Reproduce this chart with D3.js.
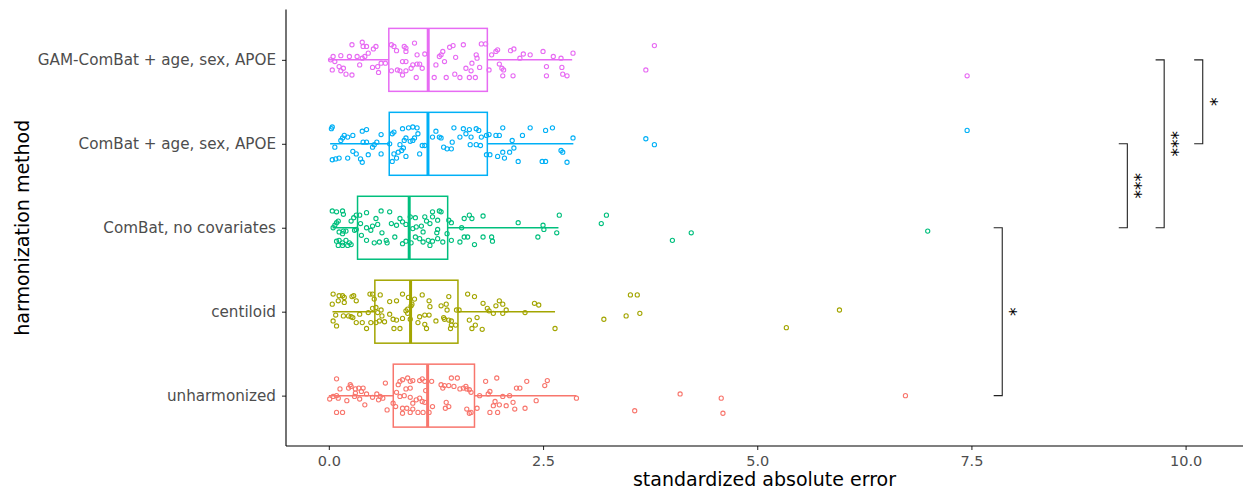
<!DOCTYPE html>
<html>
<head>
<meta charset="utf-8">
<script src="https://cdn.jsdelivr.net/npm/d3@7"></script>
<style>
  body { margin: 0; background: #fff; }
  text { font-family: "DejaVu Sans", sans-serif; }
</style>
</head>
<body>
<svg id="chart" width="1243" height="490"></svg>
<script>
// categories, bottom to top
var categories = ['unharmonized', 'centiloid', 'ComBat, no covariates', 'ComBat + age, sex, APOE', 'GAM-ComBat + age, sex, APOE'];
var colors = ['#F8766D', '#A3A500', '#00BF7D', '#00B0F6', '#E76BF3'];

// box stats: [lower whisker, q1, median, q3, upper whisker]
var boxStats = [
  [0.00, 0.752, 1.153, 1.70, 2.89],
  [0.043, 0.537, 0.954, 1.507, 2.64],
  [0.043, 0.335, 0.938, 1.387, 2.68],
  [0.015, 0.705, 1.157, 1.85, 2.854],
  [0.00, 0.70, 1.16, 1.85, 2.84]
];

// jittered points: [standardized absolute error, jitter]
var unharmonizedPts = [[0.09,-0.20],[0.13,-0.08],[0.23,-0.09],[0.25,-0.13],[0.26,-0.11],[0.31,-0.08],[0.35,-0.09],[0.40,-0.09],[0.38,-0.05],[0.31,-0.03],[0.30,0.01],[0.36,0.04],[0.42,0.11],[0.01,0.04],[0.05,0.01],[0.09,0.00],[0.11,0.03],[0.21,0.06],[0.09,0.20],[0.16,0.20],[0.51,0.02],[0.56,-0.02],[0.60,0.01],[0.63,0.03],[0.58,0.05],[0.66,-0.15],[0.68,0.17],[0.44,-0.02],
  [0.81,-0.13],[0.83,-0.17],[0.86,-0.19],[0.92,-0.21],[0.95,-0.17],[0.98,-0.18],[1.06,-0.18],[1.09,-0.20],[1.12,-0.17],[0.90,-0.08],[0.95,-0.09],[0.83,0.01],[0.88,0.00],[0.95,0.02],[0.98,0.09],[1.02,0.05],[1.06,0.03],[1.09,0.07],[1.12,0.08],[0.78,0.13],[0.86,0.15],[0.91,0.15],[0.98,0.16],[0.86,0.21],[0.95,0.20],[1.04,0.20],[1.10,0.20],[0.75,0.09],[0.79,-0.04],[1.13,-0.06],
  [1.20,-0.17],[1.31,-0.13],[1.33,-0.09],[1.35,-0.12],[1.40,-0.12],[1.43,-0.21],[1.46,-0.11],[1.50,-0.21],[1.53,-0.08],[1.57,-0.09],[1.60,-0.11],[1.61,-0.08],[1.64,-0.07],[1.66,-0.04],[1.37,0.08],[1.40,0.13],[1.36,0.15],[1.61,0.16],[1.66,0.20],[1.64,0.21],[1.21,0.13],[1.17,0.20],
  [1.73,0.15],[1.76,0.00],[1.83,-0.17],[1.86,-0.02],[1.88,-0.05],[1.96,-0.21],[1.94,0.07],[1.92,0.12],[1.99,0.11],[2.03,0.01],[2.07,0.12],[2.11,0.00],[2.15,0.08],[2.19,-0.09],[2.23,-0.09],[2.29,0.15],[2.31,-0.17],[2.42,0.06],[2.52,-0.12],[2.55,-0.18],[2.89,0.03],[1.88,0.20],[1.97,0.20],[2.17,0.16],
  [3.57,0.18],[4.10,-0.02],[4.58,0.03],[4.60,0.21],[6.73,0.00]];

var centiloidPts = [[0.05,-0.21],[0.12,-0.19],[0.16,-0.19],[0.18,-0.17],[0.27,-0.18],[0.29,-0.19],[0.32,-0.13],[0.11,-0.13],[0.04,-0.09],[0.18,-0.11],[0.08,0.04],[0.17,0.05],[0.23,0.05],[0.26,0.06],[0.28,0.07],[0.36,0.03],[0.46,0.01],[0.51,-0.04],[0.05,0.11],[0.09,0.17],[0.32,0.13],[0.39,0.13],[0.44,0.20],[0.49,0.13],[0.51,-0.21],[0.48,-0.21],[0.53,-0.15],
  [0.55,-0.05],[0.57,0.01],[0.61,-0.02],[0.62,0.05],[0.60,-0.20],[0.71,-0.12],[0.79,-0.13],[0.86,-0.21],[0.93,-0.17],[0.92,-0.03],[0.90,-0.01],[0.92,0.02],[0.71,0.03],[0.75,0.09],[0.79,0.10],[0.86,0.08],[0.59,0.11],[0.65,0.12],[0.55,0.13],[0.76,0.20],[0.83,0.20],[0.96,-0.07],[0.95,0.09],[0.97,-0.09],
  [1.00,-0.15],[1.09,-0.20],[1.18,-0.06],[1.17,-0.13],[1.06,0.06],[1.12,0.04],[1.17,0.04],[1.04,0.13],[1.12,0.15],[1.14,0.20],[1.25,0.11],[1.31,-0.07],[1.34,0.07],[1.37,-0.09],[1.40,-0.18],[1.38,-0.02],[1.43,0.11],[1.40,0.10],[1.35,0.09],[1.43,0.16],[1.48,0.16],[1.42,0.20],[1.49,-0.02],[1.52,-0.02],
  [1.62,-0.21],[1.70,-0.18],[1.80,-0.10],[1.85,-0.04],[1.87,-0.01],[1.92,0.02],[1.95,-0.07],[1.99,-0.13],[2.03,-0.09],[2.03,0.02],[2.07,-0.02],[2.29,0.01],[2.40,-0.10],[2.45,-0.08],[1.64,0.10],[1.73,0.07],[1.71,0.16],[1.79,0.21],[1.67,0.20],[2.64,0.20],
  [3.52,-0.20],[3.60,-0.20],[3.63,0.02],[3.47,0.05],[3.21,0.09],[5.96,-0.02],[5.34,0.19]];

var combatNoCovPts = [[0.04,-0.20],[0.09,-0.19],[0.16,-0.20],[0.17,-0.16],[0.11,-0.08],[0.09,-0.06],[0.07,-0.03],[0.05,0.00],[0.12,0.05],[0.17,0.04],[0.20,0.04],[0.16,0.07],[0.30,0.03],[0.32,0.02],[0.26,-0.08],[0.29,-0.12],[0.32,-0.15],[0.09,0.16],[0.12,0.15],[0.16,0.18],[0.20,0.15],[0.24,0.18],[0.11,0.21],[0.16,0.21],[0.22,0.21],[0.26,0.20],
  [0.36,-0.15],[0.44,-0.18],[0.55,-0.11],[0.61,-0.20],[0.71,-0.19],[0.37,-0.05],[0.44,0.00],[0.49,0.03],[0.51,-0.02],[0.57,-0.04],[0.62,0.06],[0.73,-0.05],[0.83,-0.11],[0.86,-0.07],[0.90,-0.04],[0.79,-0.03],[0.44,0.15],[0.53,0.18],[0.59,0.17],[0.67,0.15],[0.68,0.18],[0.86,0.19],[0.90,0.16],[0.38,0.09],[0.77,0.11],
  [0.95,-0.13],[0.98,0.01],[1.01,-0.12],[1.02,-0.01],[1.08,-0.02],[1.10,0.05],[1.12,-0.13],[1.14,-0.08],[1.21,-0.13],[1.21,-0.19],[1.27,-0.09],[1.29,-0.20],[1.31,-0.19],[1.27,0.02],[1.26,0.06],[1.18,-0.05],[1.01,0.11],[1.06,0.13],[1.10,0.17],[1.16,0.15],[1.18,0.21],[1.21,0.16],[1.27,0.13],[1.33,0.17],[1.38,0.07],[0.96,0.18],
  [1.40,-0.09],[1.43,-0.06],[1.55,0.00],[1.58,-0.11],[1.64,-0.15],[1.67,-0.11],[1.80,-0.14],[1.58,0.11],[1.62,0.11],[1.70,0.20],[1.80,0.11],[1.90,0.11],[1.91,0.16],[2.21,-0.06],[2.44,0.11],[2.50,-0.03],[2.51,0.02],[2.66,0.06],[2.69,-0.15],[1.43,0.15],[1.53,0.17],
  [3.24,-0.15],[3.18,-0.05],[4.23,0.06],[4.01,0.15],[6.99,0.04]];

var combatCovPts = [[0.04,-0.20],[0.03,-0.18],[0.16,-0.07],[0.18,-0.10],[0.22,-0.08],[0.28,-0.10],[0.14,-0.04],[0.07,0.04],[0.39,-0.15],[0.44,-0.17],[0.40,-0.02],[0.44,-0.02],[0.51,0.04],[0.53,0.01],[0.56,-0.02],[0.61,-0.11],[0.28,0.09],[0.22,0.17],[0.12,0.17],[0.08,0.18],[0.04,0.19],[0.37,0.18],[0.39,0.22],[0.46,0.13],[0.61,0.12],[0.32,0.12],
  [0.74,-0.12],[0.76,-0.14],[0.86,-0.18],[0.93,-0.19],[0.98,-0.20],[1.03,-0.19],[1.04,-0.12],[1.00,-0.07],[0.90,-0.07],[0.88,-0.04],[0.83,0.01],[0.87,0.05],[0.95,-0.03],[0.98,-0.04],[1.09,0.02],[1.12,0.02],[0.76,0.12],[0.81,0.10],[0.85,0.08],[0.90,0.15],[1.06,0.12],[0.79,0.17],[0.74,0.21],[0.71,0.00],
  [1.25,-0.15],[1.21,-0.08],[1.29,-0.08],[1.31,-0.07],[1.34,0.04],[1.38,0.06],[1.44,-0.02],[1.46,-0.19],[1.53,-0.08],[1.57,-0.18],[1.60,-0.12],[1.64,-0.17],[1.66,-0.08],[1.72,-0.18],[1.75,-0.16],[1.78,-0.08],[1.65,0.01],[1.72,0.01],[1.43,0.06],[1.77,0.02],[1.84,-0.10],
  [1.87,-0.11],[1.95,-0.10],[1.99,-0.10],[2.03,-0.19],[2.14,-0.04],[2.16,0.05],[2.26,-0.10],[2.35,-0.19],[2.53,-0.16],[2.61,-0.19],[2.85,-0.07],[1.84,0.13],[1.88,0.13],[1.97,0.15],[2.03,0.10],[2.11,0.10],[2.21,0.21],[2.49,0.21],[2.53,0.21],[2.71,0.08],[2.73,0.10],[2.78,0.22],[2.05,0.17],
  [3.70,-0.06],[3.80,0.01],[7.45,-0.16]];

var gamCombatPts = [[0.27,-0.18],[0.39,-0.21],[0.40,-0.16],[0.44,-0.16],[0.55,-0.16],[0.52,-0.13],[0.46,-0.08],[0.42,-0.04],[0.39,-0.02],[0.33,-0.04],[0.24,-0.04],[0.14,-0.05],[0.05,-0.04],[0.02,0.00],[0.07,0.02],[0.04,0.12],[0.12,0.08],[0.14,0.13],[0.20,0.17],[0.27,0.18],[0.17,0.10],[0.36,0.06],[0.51,0.09],[0.57,0.08],[0.58,0.15],[0.61,0.04],[0.66,0.04],
  [0.73,-0.18],[0.76,-0.16],[0.79,-0.11],[0.88,-0.16],[0.90,-0.14],[0.90,-0.10],[1.00,-0.20],[1.03,-0.06],[0.86,0.02],[0.90,0.02],[0.80,0.12],[0.83,0.13],[0.86,0.18],[0.90,0.13],[0.96,0.10],[0.98,0.06],[1.03,0.05],[1.06,0.05],[1.09,0.10],[1.02,0.21],[0.73,0.13],[1.12,-0.07],
  [1.25,0.06],[1.29,-0.04],[1.31,-0.06],[1.33,-0.10],[1.35,0.02],[1.41,-0.15],[1.45,-0.17],[1.48,-0.03],[1.57,-0.18],[1.60,0.10],[1.66,0.13],[1.67,0.04],[1.72,-0.06],[1.73,-0.02],[1.76,0.09],[1.78,-0.19],[1.83,-0.19],[1.47,0.17],[1.53,0.21],[1.64,0.21],[1.71,0.21],[1.23,0.21],[1.37,0.21],
  [1.90,-0.06],[1.95,-0.10],[1.97,-0.12],[1.87,0.12],[1.99,0.05],[2.02,0.10],[2.04,0.12],[2.12,-0.11],[2.16,-0.13],[2.23,-0.02],[2.27,-0.07],[2.35,-0.06],[2.50,-0.10],[2.62,-0.04],[2.54,0.08],[2.71,-0.02],[2.72,0.09],[2.73,0.17],[2.78,0.19],[2.85,-0.08],[2.03,0.19],[2.15,0.19],[2.54,0.19],
  [3.80,-0.17],[3.70,0.12],[7.45,0.19]];

var pointSets = [unharmonizedPts, centiloidPts, combatNoCovPts, combatCovPts, gamCombatPts];

// significance brackets: [group a, group b, x position, label]
var brackets = [
  [0, 2, 7.86, '*'],
  [2, 3, 9.32, '***'],
  [2, 4, 9.75, '***'],
  [3, 4, 10.20, '*']
];

var xTicks = [0, 2.5, 5, 7.5, 10];

var svg = d3.select('#chart');

var panel = { left: 286, right: 1243, top: 9.5, bottom: 446 };

var x = d3.scaleLinear()
  .domain([-0.5, 10.67])
  .range([panel.left, panel.right]);

// discrete axis: index 0..4, with 0.6 expansion on both sides
var y = d3.scaleLinear()
  .domain([-0.6, categories.length - 0.4])
  .range([panel.bottom, panel.top]);

var bandPx = Math.abs(y(1) - y(0));
var boxHalf = bandPx * 0.75 / 2;

// boxplots
var boxes = svg.append('g')
  .selectAll('g.box')
  .data(boxStats)
  .enter()
  .append('g')
  .classed('box', true)
  .attr('stroke', function (d, i) { return colors[i]; })
  .attr('fill', 'none');

boxes.append('line')
  .attr('x1', function (d) { return x(d[0]); })
  .attr('x2', function (d) { return x(d[1]); })
  .attr('y1', function (d, i) { return y(i); })
  .attr('y2', function (d, i) { return y(i); })
  .attr('stroke-width', 1.5);

boxes.append('line')
  .attr('x1', function (d) { return x(d[3]); })
  .attr('x2', function (d) { return x(d[4]); })
  .attr('y1', function (d, i) { return y(i); })
  .attr('y2', function (d, i) { return y(i); })
  .attr('stroke-width', 1.5);

boxes.append('rect')
  .attr('x', function (d) { return x(d[1]); })
  .attr('width', function (d) { return x(d[3]) - x(d[1]); })
  .attr('y', function (d, i) { return y(i) - boxHalf; })
  .attr('height', boxHalf * 2)
  .attr('stroke-width', 1.5);

boxes.append('line')
  .attr('x1', function (d) { return x(d[2]); })
  .attr('x2', function (d) { return x(d[2]); })
  .attr('y1', function (d, i) { return y(i) - boxHalf; })
  .attr('y2', function (d, i) { return y(i) + boxHalf; })
  .attr('stroke-width', 3);

// jittered points
pointSets.forEach(function (pts, i) {
  svg.append('g')
    .selectAll('circle')
    .data(pts)
    .enter()
    .append('circle')
    .attr('cx', function (p) { return x(p[0]); })
    .attr('cy', function (p) { return y(i - p[1]); })
    .attr('r', 2.1)
    .attr('fill', 'none')
    .attr('stroke', colors[i])
    .attr('stroke-width', 1.1);
});

// significance brackets (drawn along y because the plot is flipped)
var tickLen = 0.1;
var sig = svg.append('g')
  .selectAll('g.sig')
  .data(brackets)
  .enter()
  .append('g')
  .classed('sig', true);

sig.append('path')
  .attr('d', function (b) {
    var xa = x(b[2]), xt = x(b[2] - tickLen);
    return 'M' + xt + ',' + y(b[0]) + 'H' + xa + 'V' + y(b[1]) + 'H' + xt;
  })
  .attr('fill', 'none')
  .attr('stroke', '#222')
  .attr('stroke-width', 1.1);

sig.append('text')
  .attr('transform', function (b) {
    return 'translate(' + (x(b[2]) + 2) + ',' + y((b[0] + b[1]) / 2) + ') rotate(90)';
  })
  .attr('text-anchor', 'middle')
  .style('font-size', '17px')
  .attr('fill', '#000')
  .text(function (b) { return b[3]; });

// axes
var xAxis = svg.append('g')
  .attr('transform', 'translate(0,' + panel.bottom + ')')
  .call(d3.axisBottom(x)
    .tickValues(xTicks)
    .tickFormat(d3.format('.1f'))
    .tickSize(4)
    .tickPadding(6));

xAxis.select('.domain').remove();
xAxis.append('line')
  .attr('x1', panel.left).attr('x2', panel.right)
  .attr('stroke', '#000').attr('stroke-width', 1.1);
xAxis.selectAll('.tick line').attr('stroke', '#333').attr('stroke-width', 1.1);
xAxis.selectAll('.tick text')
  .style('font-size', '14.5px')
  .attr('fill', '#4d4d4d');

var yAxis = svg.append('g')
  .attr('transform', 'translate(' + panel.left + ',0)')
  .call(d3.axisLeft(y)
    .tickValues(d3.range(categories.length))
    .tickFormat(function (i) { return categories[i]; })
    .tickSize(4)
    .tickPadding(6));

yAxis.select('.domain').remove();
yAxis.append('line')
  .attr('y1', panel.top).attr('y2', panel.bottom)
  .attr('stroke', '#000').attr('stroke-width', 1.1);
yAxis.selectAll('.tick line').attr('stroke', '#333').attr('stroke-width', 1.1);
yAxis.selectAll('.tick text')
  .style('font-size', '15.2px')
  .attr('fill', '#4d4d4d');

svg.append('text')
  .attr('x', (panel.left + panel.right) / 2)
  .attr('y', 486)
  .attr('text-anchor', 'middle')
  .style('font-size', '19px')
  .attr('fill', '#000')
  .text('standardized absolute error');

svg.append('text')
  .attr('transform', 'translate(29,' + ((panel.top + panel.bottom) / 2) + ') rotate(-90)')
  .attr('text-anchor', 'middle')
  .style('font-size', '19px')
  .attr('fill', '#000')
  .text('harmonization method');
</script>
</body>
</html>
